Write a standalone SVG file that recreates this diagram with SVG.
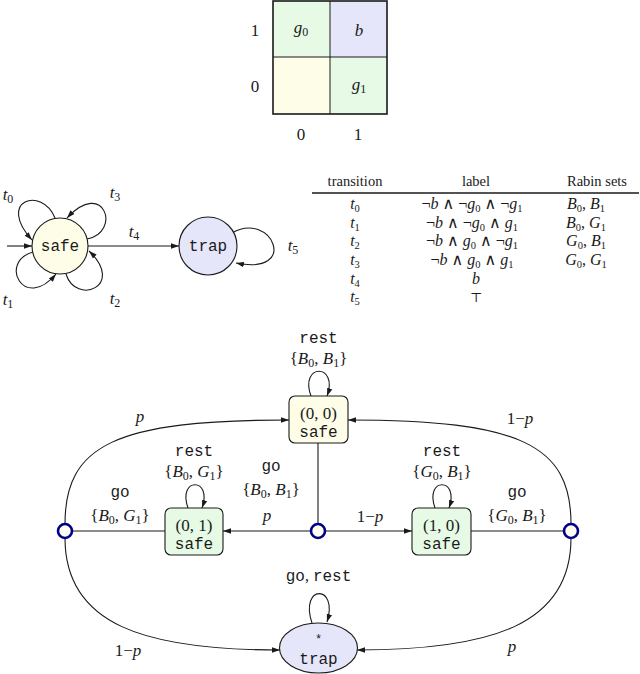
<svg xmlns="http://www.w3.org/2000/svg" width="640" height="674" viewBox="0 0 640 674">
<defs>
<marker id="ah" markerUnits="userSpaceOnUse" markerWidth="9" markerHeight="7" refX="8" refY="3.5" orient="auto">
<path d="M0,0.8 L8,3.5 L0,6.2 z" fill="#1a1a1a"/>
</marker>
<style>
.m{font-family:"Liberation Serif","DejaVu Serif",serif;font-size:15px;fill:#1a1a1a}
.T{font-size:16px}
.L{font-size:17px}
.i{font-style:italic}
.s{font-size:10.5px;font-style:normal}
.sL{font-size:12px;font-style:normal}
.tt{font-family:"Liberation Mono","DejaVu Sans Mono",monospace;font-size:16px;fill:#1a1a1a}
.h{font-family:"Liberation Serif","DejaVu Serif",serif;font-size:14.5px;fill:#1a1a1a}
.e{fill:none;stroke:#1a1a1a;stroke-width:1.1}
.a{marker-end:url(#ah)}
.nd{stroke:#1a1a1a;stroke-width:1.1}
.ch{fill:#fffff0;stroke:#00008b;stroke-width:2.6}
.gr{fill:#e6fae6}
.yl{fill:#fdfde8}
.lv{fill:#e6e6fa}
</style>
</defs>
<rect width="640" height="674" fill="#ffffff"/>

<!-- grid -->
<g id="grid">
<rect x="273" y="1" width="57" height="56" class="gr"/>
<rect x="330" y="1" width="57" height="56" class="lv"/>
<rect x="273" y="57" width="57" height="57" class="yl"/>
<rect x="330" y="57" width="57" height="57" class="gr"/>
<rect x="273" y="1" width="114" height="113" fill="none" stroke="#1a1a1a" stroke-width="1.6"/>
<line x1="330" y1="1" x2="330" y2="114" stroke="#1a1a1a" stroke-width="1"/>
<line x1="273" y1="57" x2="387" y2="57" stroke="#1a1a1a" stroke-width="1"/>
<text class="m L" x="255" y="36" text-anchor="middle">1</text>
<text class="m L" x="255" y="92" text-anchor="middle">0</text>
<text class="m L" x="301" y="140" text-anchor="middle">0</text>
<text class="m L" x="358" y="140" text-anchor="middle">1</text>
<text class="m L" x="301" y="33" text-anchor="middle"><tspan class="i">g</tspan><tspan class="sL" dy="3">0</tspan></text>
<text class="m L i" x="359" y="36" text-anchor="middle">b</text>
<text class="m L" x="359" y="90" text-anchor="middle"><tspan class="i">g</tspan><tspan class="sL" dy="3">1</tspan></text>
</g>

<!-- automaton -->
<g id="connectors-automaton">
<line x1="7" y1="246" x2="32" y2="246" class="e a"/>
<line x1="88" y1="246" x2="179" y2="246" class="e a"/>
<path d="M55,218 C42,186 -4,200 32,240" class="e a"/>
<path d="M87,239 C122,232 104,178 67,218" class="e a"/>
<path d="M33,252 C-2,262 24,312 56,274" class="e a"/>
<path d="M66,274 C76,306 126,286 89,251" class="e a"/>
<path d="M232,233 C272,210 300,276 236,263" class="e a"/>
</g>
<g id="aut-safe">
<circle cx="60" cy="246" r="28" class="nd" fill="#fdfde8"/>
<text class="tt" x="60" y="251" text-anchor="middle">safe</text>
</g>
<g id="aut-trap">
<circle cx="208" cy="246" r="29" class="nd" fill="#e6e6fa"/>
<text class="tt" x="208" y="251" text-anchor="middle">trap</text>
</g>
<g id="aut-labels" text-anchor="middle">
<text class="m L" x="8" y="200"><tspan class="i">t</tspan><tspan class="sL" dy="3">0</tspan></text>
<text class="m L" x="115" y="198"><tspan class="i">t</tspan><tspan class="sL" dy="3">3</tspan></text>
<text class="m L" x="8" y="305"><tspan class="i">t</tspan><tspan class="sL" dy="3">1</tspan></text>
<text class="m L" x="115" y="304"><tspan class="i">t</tspan><tspan class="sL" dy="3">2</tspan></text>
<text class="m L" x="134" y="237"><tspan class="i">t</tspan><tspan class="sL" dy="3">4</tspan></text>
<text class="m L" x="293" y="251"><tspan class="i">t</tspan><tspan class="sL" dy="3">5</tspan></text>
</g>

<!-- table -->
<g id="table">
<text class="h" x="355" y="186" text-anchor="middle">transition</text>
<text class="h" x="476" y="186" text-anchor="middle">label</text>
<text class="h" x="597" y="186" text-anchor="middle">Rabin sets</text>
<line x1="312" y1="193" x2="639" y2="193" stroke="#1a1a1a" stroke-width="1.3"/>
<g text-anchor="middle" class="m T">
<text x="355" y="209"><tspan class="i">t</tspan><tspan class="s" dy="3">0</tspan></text>
<text x="355" y="228"><tspan class="i">t</tspan><tspan class="s" dy="3">1</tspan></text>
<text x="355" y="246"><tspan class="i">t</tspan><tspan class="s" dy="3">2</tspan></text>
<text x="355" y="265"><tspan class="i">t</tspan><tspan class="s" dy="3">3</tspan></text>
<text x="355" y="284"><tspan class="i">t</tspan><tspan class="s" dy="3">4</tspan></text>
<text x="355" y="302"><tspan class="i">t</tspan><tspan class="s" dy="3">5</tspan></text>

<text x="472" y="209">¬<tspan class="i">b</tspan> ∧ ¬<tspan class="i">g</tspan><tspan class="s" dy="3">0</tspan><tspan dy="-3"> ∧ ¬</tspan><tspan class="i">g</tspan><tspan class="s" dy="3">1</tspan></text>
<text x="472" y="228">¬<tspan class="i">b</tspan> ∧ ¬<tspan class="i">g</tspan><tspan class="s" dy="3">0</tspan><tspan dy="-3"> ∧ </tspan><tspan class="i">g</tspan><tspan class="s" dy="3">1</tspan></text>
<text x="472" y="246">¬<tspan class="i">b</tspan> ∧ <tspan class="i">g</tspan><tspan class="s" dy="3">0</tspan><tspan dy="-3"> ∧ ¬</tspan><tspan class="i">g</tspan><tspan class="s" dy="3">1</tspan></text>
<text x="472" y="265">¬<tspan class="i">b</tspan> ∧ <tspan class="i">g</tspan><tspan class="s" dy="3">0</tspan><tspan dy="-3"> ∧ </tspan><tspan class="i">g</tspan><tspan class="s" dy="3">1</tspan></text>
<text x="476" y="284" class="i">b</text>
<text x="476" y="302" style="font-size:13px">⊤</text>

<text x="586" y="209"><tspan class="i">B</tspan><tspan class="s" dy="3">0</tspan><tspan dy="-3">, </tspan><tspan class="i">B</tspan><tspan class="s" dy="3">1</tspan></text>
<text x="586" y="228"><tspan class="i">B</tspan><tspan class="s" dy="3">0</tspan><tspan dy="-3">, </tspan><tspan class="i">G</tspan><tspan class="s" dy="3">1</tspan></text>
<text x="586" y="246"><tspan class="i">G</tspan><tspan class="s" dy="3">0</tspan><tspan dy="-3">, </tspan><tspan class="i">B</tspan><tspan class="s" dy="3">1</tspan></text>
<text x="586" y="265"><tspan class="i">G</tspan><tspan class="s" dy="3">0</tspan><tspan dy="-3">, </tspan><tspan class="i">G</tspan><tspan class="s" dy="3">1</tspan></text>
</g>
</g>

<!-- MDP connectors -->
<g id="connectors">
<path d="M65,524 C65,445 115,420 289,420" class="e a"/>
<path d="M571,524 C571,445 521,420 348,420" class="e a"/>
<path d="M65,538 C65,625 145,650 280,650" class="e a"/>
<path d="M571,538 C571,625 491,650 357,650" class="e a"/>
<line x1="72" y1="531" x2="165" y2="531" class="e"/>
<line x1="471" y1="531" x2="564" y2="531" class="e"/>
<line x1="318" y1="443" x2="318" y2="523" class="e"/>
<line x1="311" y1="531" x2="223" y2="531" class="e a"/>
<line x1="325" y1="531" x2="412" y2="531" class="e a"/>
<path d="M311,396 C299,363 339,363 327,396" class="e a"/>
<path d="M188,508 C177,477 213,477 202,508" class="e a"/>
<path d="M435,508 C424,477 460,477 449,508" class="e a"/>
<path d="M312,623 C299,584 339,584 327,622" class="e a"/>
</g>

<g id="s00">
<rect x="289" y="396" width="59" height="47" rx="6" class="nd yl"/>
<text class="m L" x="318.5" y="419" text-anchor="middle">(0, 0)</text>
<text class="tt" x="318.5" y="437" text-anchor="middle">safe</text>
</g>
<g id="s01">
<rect x="165" y="508" width="58" height="47" rx="6" class="nd gr"/>
<text class="m L" x="194" y="531" text-anchor="middle">(0, 1)</text>
<text class="tt" x="194" y="549" text-anchor="middle">safe</text>
</g>
<g id="s10">
<rect x="412" y="508" width="59" height="47" rx="6" class="nd gr"/>
<text class="m L" x="441.5" y="531" text-anchor="middle">(1, 0)</text>
<text class="tt" x="441.5" y="549" text-anchor="middle">safe</text>
</g>
<g id="trap">
<ellipse cx="318.5" cy="648" rx="39" ry="25" class="nd lv"/>
<text class="tt" x="318.5" y="643" text-anchor="middle" style="font-size:12px">*</text>
<text class="tt" x="318.5" y="664" text-anchor="middle">trap</text>
</g>
<g id="cL"><circle cx="65" cy="531" r="7" class="ch"/></g>
<g id="cC"><circle cx="318" cy="531" r="7" class="ch"/></g>
<g id="cR"><circle cx="571" cy="531" r="7" class="ch"/></g>

<g id="mdp-labels" text-anchor="middle">
<text class="tt" x="318.5" y="343">rest</text>
<text class="m L" x="318.5" y="364">{<tspan class="i">B</tspan><tspan class="sL" dy="3">0</tspan><tspan dy="-3">, </tspan><tspan class="i">B</tspan><tspan class="sL" dy="3">1</tspan><tspan dy="-3">}</tspan></text>

<text class="tt" x="194" y="456">rest</text>
<text class="m L" x="194" y="477">{<tspan class="i">B</tspan><tspan class="sL" dy="3">0</tspan><tspan dy="-3">, </tspan><tspan class="i">G</tspan><tspan class="sL" dy="3">1</tspan><tspan dy="-3">}</tspan></text>

<text class="tt" x="442" y="456">rest</text>
<text class="m L" x="442" y="477">{<tspan class="i">G</tspan><tspan class="sL" dy="3">0</tspan><tspan dy="-3">, </tspan><tspan class="i">B</tspan><tspan class="sL" dy="3">1</tspan><tspan dy="-3">}</tspan></text>

<text class="tt" x="120" y="497">go</text>
<text class="m L" x="120" y="521">{<tspan class="i">B</tspan><tspan class="sL" dy="3">0</tspan><tspan dy="-3">, </tspan><tspan class="i">G</tspan><tspan class="sL" dy="3">1</tspan><tspan dy="-3">}</tspan></text>

<text class="tt" x="517" y="497">go</text>
<text class="m L" x="517" y="521">{<tspan class="i">G</tspan><tspan class="sL" dy="3">0</tspan><tspan dy="-3">, </tspan><tspan class="i">B</tspan><tspan class="sL" dy="3">1</tspan><tspan dy="-3">}</tspan></text>

<text class="tt" x="271" y="471">go</text>
<text class="m L" x="271" y="495">{<tspan class="i">B</tspan><tspan class="sL" dy="3">0</tspan><tspan dy="-3">, </tspan><tspan class="i">B</tspan><tspan class="sL" dy="3">1</tspan><tspan dy="-3">}</tspan></text>

<text class="m L i" x="267" y="521">p</text>
<text class="m L" x="370" y="522">1−<tspan class="i">p</tspan></text>
<text class="m L i" x="140" y="422">p</text>
<text class="m L" x="520" y="424">1−<tspan class="i">p</tspan></text>
<text class="m L" x="128" y="656">1−<tspan class="i">p</tspan></text>
<text class="m L i" x="512" y="652">p</text>
<text class="tt" x="318.5" y="581">go<tspan style="font-family:'Liberation Serif',serif">, </tspan>rest</text>
</g>
</svg>
